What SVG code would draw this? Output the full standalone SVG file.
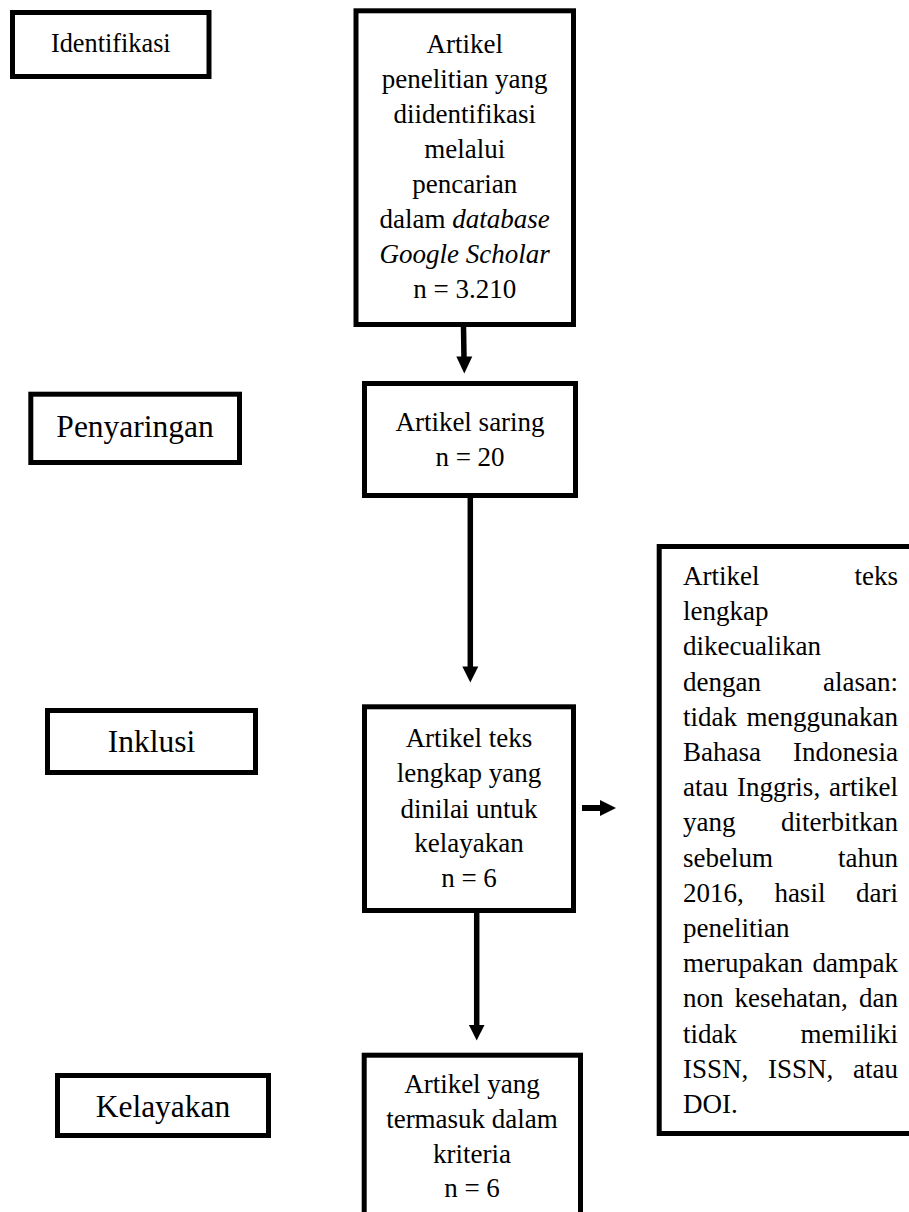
<svg xmlns="http://www.w3.org/2000/svg" width="909" height="1212" viewBox="0 0 909 1212">
<style>
.box{fill:#fff;stroke:#000;stroke-width:5;stroke-linejoin:miter}
.t{font-family:"Liberation Serif","Times New Roman",serif;font-size:27px;fill:#000}
.c{text-anchor:middle}
.lbl{font-family:"Liberation Serif","Times New Roman",serif;font-size:31.5px;fill:#000;text-anchor:middle}
.e{text-anchor:end}
.ln{stroke:#000;stroke-width:5.5;fill:none}
.hd{fill:#000}
</style>
<rect width="909" height="1212" fill="#fff"/>
<g id="connectors">
<line class="ln" x1="463.5" y1="327" x2="464" y2="358"/>
<polygon class="hd" points="456.3,356.5 472.3,356.5 464.3,373.5"/>
<line class="ln" x1="470.3" y1="498" x2="470.3" y2="668"/>
<polygon class="hd" points="462.3,666.5 478.3,666.5 470.3,682.5"/>
<line class="ln" x1="476.7" y1="913" x2="476.7" y2="1026"/>
<polygon class="hd" points="468.9,1025 484.5,1025 476.7,1040.5"/>
<line class="ln" x1="582" y1="808" x2="601" y2="808" style="stroke-width:6"/>
<polygon class="hd" points="600,800 600,816 616,808"/>
</g>
<g id="label-identifikasi">
<rect class="box" x="12.5" y="12.5" width="196.5" height="64"/>
<text class="lbl" x="110.8" y="51.7" style="font-size:26.3px">Identifikasi</text>
</g>
<g id="node-identified">
<rect class="box" x="356" y="10.8" width="217.5" height="313.7"/>
<text class="t c" x="464.7" y="52.7">Artikel</text>
<text class="t c" x="464.7" y="87.8">penelitian yang</text>
<text class="t c" x="464.7" y="122.9">diidentifikasi</text>
<text class="t c" x="464.7" y="158">melalui</text>
<text class="t c" x="464.7" y="193.1">pencarian</text>
<text class="t c" x="464.7" y="228.2">dalam <tspan font-style="italic">database</tspan></text>
<text class="t c" x="464.7" y="263.3" font-style="italic">Google Scholar</text>
<text class="t c" x="464.7" y="298.4">n = 3.210</text>
</g>
<g id="label-penyaringan">
<rect class="box" x="30.8" y="394.2" width="208.7" height="68.3"/>
<text class="lbl" x="135.1" y="437.3">Penyaringan</text>
</g>
<g id="node-screened">
<rect class="box" x="364.5" y="383.5" width="211" height="112"/>
<text class="t c" x="470" y="430.7">Artikel saring</text>
<text class="t c" x="470" y="465.5">n = 20</text>
</g>
<g id="label-inklusi">
<rect class="box" x="47.5" y="710.5" width="208" height="62"/>
<text class="lbl" x="151.5" y="751.7">Inklusi</text>
</g>
<g id="node-fulltext">
<rect class="box" x="364.5" y="706.8" width="209" height="203.7"/>
<text class="t c" x="469" y="747">Artikel teks</text>
<text class="t c" x="469" y="782.3">lengkap yang</text>
<text class="t c" x="469" y="817.5">dinilai untuk</text>
<text class="t c" x="469" y="852.3">kelayakan</text>
<text class="t c" x="469" y="887.3">n = 6</text>
</g>
<g id="node-excluded">
<rect class="box" x="659.2" y="546.5" width="300" height="587"/>
<text class="t" x="683" y="585">Artikel</text><text class="t e" x="898" y="585">teks</text>
<text class="t" x="683" y="620.2">lengkap</text>
<text class="t" x="683" y="655.4">dikecualikan</text>
<text class="t" x="683" y="690.6">dengan</text><text class="t e" x="898" y="690.6">alasan:</text>
<text class="t" x="683" y="725.8">tidak</text><text class="t e" x="898" y="725.8">menggunakan</text>
<text class="t" x="683" y="761">Bahasa</text><text class="t e" x="898" y="761">Indonesia</text>
<text class="t" x="683" y="796.2">atau</text><text class="t" x="736.9" y="796.2">Inggris,</text><text class="t e" x="898" y="796.2">artikel</text>
<text class="t" x="683" y="831.4">yang</text><text class="t e" x="898" y="831.4">diterbitkan</text>
<text class="t" x="683" y="866.6">sebelum</text><text class="t e" x="898" y="866.6">tahun</text>
<text class="t" x="683" y="901.8">2016,</text><text class="t" x="774.4" y="901.8">hasil</text><text class="t e" x="898" y="901.8">dari</text>
<text class="t" x="683" y="937">penelitian</text>
<text class="t" x="683" y="972.2">merupakan</text><text class="t e" x="898" y="972.2">dampak</text>
<text class="t" x="683" y="1007.4">non</text><text class="t" x="734.6" y="1007.4">kesehatan,</text><text class="t e" x="898" y="1007.4">dan</text>
<text class="t" x="683" y="1042.6">tidak</text><text class="t e" x="898" y="1042.6">memiliki</text>
<text class="t" x="683" y="1077.8">ISSN,</text><text class="t" x="768" y="1077.8">ISSN,</text><text class="t e" x="898" y="1077.8">atau</text>
<text class="t" x="683" y="1113">DOI.</text>
</g>
<g id="label-kelayakan">
<rect class="box" x="57.5" y="1075.5" width="211" height="60"/>
<text class="lbl" x="163" y="1117">Kelayakan</text>
</g>
<g id="node-included">
<rect class="box" x="364.2" y="1055.2" width="216.3" height="200"/>
<text class="t c" x="472" y="1093">Artikel yang</text>
<text class="t c" x="472" y="1128">termasuk dalam</text>
<text class="t c" x="472" y="1163">kriteria</text>
<text class="t c" x="472" y="1197">n = 6</text>
</g>
</svg>
